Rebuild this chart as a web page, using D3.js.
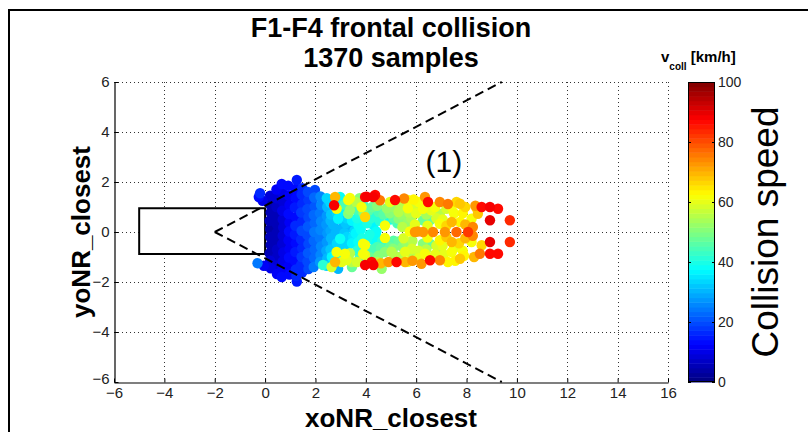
<!DOCTYPE html>
<html>
<head>
<meta charset="utf-8">
<script src="https://cdn.jsdelivr.net/npm/d3@7"></script>
<style>
  body { margin: 0; background: #fff; }
  svg { display: block; }
</style>
</head>
<body>
<svg id="chart" width="808" height="432"></svg>
<script>
const titleLines = ['F1-F4 frontal collision', '1370 samples'];
const xLabel = 'xoNR_closest';
const yLabel = 'yoNR_closest';
const cbarLabel = 'Collision speed';
const regionLabel = '(1)';
const regionPos = [7.1, 2.4];

const xTicks = [-6, -4, -2, 0, 2, 4, 6, 8, 10, 12, 14, 16];
const yTicks = [-6, -4, -2, 0, 2, 4, 6];
const cbarTicks = [0, 20, 40, 60, 80, 100];

// vehicle outline [x0, x1, y0, y1] and the cone edges from the apex
const vehicleBox = [-5, 0, -0.88, 0.95];
const coneApex = [-2, 0];
const coneEnds = [[9.4, 6], [9.4, -6]];

// [xoNR, yoNR, v_coll km/h]
const samples = [
  // beside the vehicle front
  [-0.25,1.4,14],[-0.1,1.25,10],[-0.2,1.55,16],[-0.3,-1.25,24],[-0.05,-1.35,12],
  // x ~ 0.2 .. 2.5, blue
  [0.2,1.45,9],[0.2,1.1,6],[0.22,0.78,5],[0.18,0.45,5],[0.2,0.12,4],[0.2,-0.2,5],[0.22,-0.52,5],[0.18,-0.85,6],[0.2,-1.15,8],[0.22,-1.45,10],
  [0.45,1.7,11],[0.47,1.35,8],[0.45,1.0,7],[0.43,0.65,6],[0.47,0.3,6],[0.45,-0.05,5],[0.45,-0.38,6],[0.47,-0.7,7],[0.45,-1.02,7],[0.43,-1.35,9],[0.47,-1.68,12],
  [0.66,1.92,13],[0.7,1.55,10],[0.72,1.2,9],[0.68,0.85,10],[0.7,0.5,8],[0.72,0.18,9],[0.7,-0.15,8],[0.68,-0.48,9],[0.72,-0.82,10],[0.7,-1.18,10],[0.68,-1.52,11],[0.66,-1.8,13],
  [0.92,1.85,14],[0.95,1.45,12],[0.97,1.08,11],[0.93,0.72,13],[0.97,0.38,12],[0.95,0.02,14],[0.93,-0.33,12],[0.97,-0.68,11],[0.95,-1.02,13],[0.93,-1.38,12],[0.97,-1.7,14],
  [1.26,2.08,15],[1.2,1.72,13],[1.22,1.35,14],[1.18,0.98,15],[1.22,0.6,14],[1.2,0.25,16],[1.18,-0.1,15],[1.22,-0.45,13],[1.2,-0.8,15],[1.18,-1.15,14],[1.22,-1.5,16],[1.24,-1.75,16],[1.26,-1.98,15],
  [1.48,1.75,16],[1.45,1.5,17],[1.47,1.12,16],[1.43,0.78,18],[1.47,0.42,17],[1.45,0.05,19],[1.43,-0.3,17],[1.47,-0.65,16],[1.45,-1.0,18],[1.43,-1.32,17],[1.47,-1.62,16],
  [1.7,1.6,19],[1.72,1.28,18],[1.68,0.92,20],[1.72,0.58,19],[1.7,0.22,21],[1.68,-0.12,20],[1.72,-0.48,19],[1.7,-0.84,21],[1.68,-1.18,20],[1.72,-1.48,19],
  [1.98,1.68,20],[1.95,1.38,22],[1.97,1.02,21],[1.93,0.68,23],[1.97,0.35,22],[1.95,0.0,24],[1.93,-0.35,22],[1.97,-0.7,23],[1.95,-1.05,22],[1.93,-1.4,24],
  [2.2,1.42,26],[2.22,1.08,25],[2.18,0.75,24],[2.22,0.42,26],[2.2,0.08,25],[2.18,-0.25,24],[2.22,-0.58,26],[2.2,-0.92,25],[2.18,-1.2,27],[2.3,-1.32,42],
  [2.45,1.35,33],[2.47,1.0,30],[2.45,0.65,28],[2.43,0.3,27],[2.47,-0.05,28],[2.45,-0.4,27],[2.43,-0.75,29],[2.47,-1.05,31],[2.45,-1.35,34],
  // x ~ 2.6 .. 4.6, light blue / cyan with fast outer rows
  [2.6,1.15,34],[2.6,0.45,30],[2.6,0.05,29],[2.62,-0.25,30],[2.6,-0.7,32],[2.85,1.2,36],[2.85,0.75,34],[2.8,-0.05,31],[2.85,-0.45,33],[2.8,-1.0,38],
  [3.05,0.85,36],[3.05,0.15,30],[3.1,-0.35,32],[3.1,-1.0,40],[3.25,1.05,40],[3.25,-0.2,33],[3.25,0.55,34],[3.45,0.45,36],[3.45,-0.45,36],[3.5,1.1,44],
  [3.45,-1.4,48],[3.55,0.05,34],[3.7,-0.4,38],[3.75,0.75,42],[3.75,1.35,50],[3.75,-1.05,44],
  [2.74,1.07,88],[2.78,1.4,70],[2.84,0.93,62],[2.9,0.53,36],[2.62,0.7,32],[2.7,0.3,30],[2.9,0.0,28],[2.98,-0.27,38],[2.7,-0.45,30],[2.65,-1.0,36],
  [2.84,-0.8,62],[2.78,-1.2,70],[2.64,-1.4,58],[2.9,-1.47,30],[3.0,-0.6,33],
  [2.98,1.4,38],[3.3,1.28,62],[3.37,1.36,62],[3.15,1.1,44],[2.98,0.53,28],[3.3,0.73,50],[3.37,0.88,52],[3.37,0.2,30],[3.2,0.35,32],[3.15,-0.05,32],
  [3.5,-0.2,35],[3.3,-0.5,34],[3.17,-0.87,62],[3.37,-0.85,56],[3.04,-1.2,60],[3.44,-1.2,55],[3.24,-1.12,60],
  [3.97,1.4,86],[4.29,1.4,88],[4.03,1.41,88],[4.37,1.48,86],[3.83,1.0,62],[3.9,1.08,45],[3.9,0.76,50],[3.97,0.6,66],[3.7,0.28,38],[3.65,0.55,40],
  [3.6,-0.05,36],[3.8,0.1,38],[3.85,-0.25,40],[3.89,-0.47,62],[3.97,-0.52,62],[3.89,-0.87,62],[3.97,-0.92,60],[4.23,-1.2,87],[3.97,-1.32,88],[4.3,-1.32,88],
  [3.65,-1.2,58],[3.6,1.2,56],[3.65,-0.75,42],[3.6,0.9,44],
  [4.05,0.35,40],[4.05,-0.3,40],[4.1,0.85,46],[4.1,-0.75,45],[4.15,-1.0,48],[4.35,0.65,42],[4.4,-0.15,38],[4.45,-0.6,44],[4.45,1.05,50],[4.55,0.45,42],
  [4.65,-0.35,42],[4.7,0.7,46],[4.75,-0.8,50],[4.45,-1.2,55],
  [4.3,0.28,37],[4.37,-0.4,38],[4.5,0.8,45],[4.56,1.27,75],[4.2,0.55,42],[4.15,-0.1,40],[4.42,0.02,38],[4.25,-0.7,45],[4.5,-0.95,50],[4.6,-0.65,46],
  [4.25,1.0,48],[4.63,-1.47,52],[4.6,-1.25,70],
  // x ~ 4.7 .. 6.2, green / yellow
  [4.95,0.75,50],[4.95,-0.6,48],[5.1,1.0,52],[5.15,-0.95,54],[5.1,0.55,46],[5.1,-0.35,46],[5.35,1.1,56],[5.35,-1.0,55],[5.4,0.7,52],[5.45,-0.6,50],
  [5.55,0.5,50],[5.6,-0.4,52],[5.8,0.55,54],[5.85,-0.35,55],[5.8,1.12,58],[5.95,0.3,60],
  [4.76,0.26,62],[4.76,-0.24,62],[4.96,1.2,60],[4.83,0.95,52],[4.96,0.5,40],[4.83,-0.4,40],[5.02,-0.79,56],[5.08,-0.67,50],[4.9,-1.2,72],[5.22,-1.2,86],
  [5.16,1.28,86],[5.52,1.34,74],[5.67,1.28,62],[5.3,0.8,56],[5.3,0.53,50],[5.25,0.35,45],[5.67,0.95,62],[5.72,0.78,56],[5.67,0.4,52],[5.75,0.02,62],
  [5.95,0.0,72],[6.06,0.02,72],[5.3,-0.38,48],[5.67,-0.52,50],[5.83,-0.67,58],[5.56,-0.79,60],[5.56,-1.2,70],[5.67,-1.19,62],[5.85,-1.15,72],
  [6.0,0.75,60],[5.45,0.2,55],[5.5,-0.25,58],[5.9,1.3,64],[6.0,1.05,58],[5.85,-0.95,56],[6.1,-0.75,58],
  // x ~ 6.2 .. 8.2, yellow / orange
  [6.1,1.2,62],[6.1,-1.05,60],[6.4,0.7,54],[6.4,-0.7,55],[6.45,0.25,60],[6.45,-0.22,62],[6.75,1.0,62],[6.75,-0.9,60],[6.8,0.55,58],[6.8,-0.55,58],
  [7.05,0.5,60],[7.05,-0.55,60],[7.2,0.25,66],[7.2,-0.2,68],[7.5,0.75,62],[7.5,-0.65,60],[7.6,1.2,66],[7.55,-1.15,64],[7.95,1.0,66],[7.9,-0.95,64],
  [7.95,0.3,70],[7.95,-0.25,70],[8.25,0.2,74],[8.25,-0.15,74],[8.3,-1.0,70],[8.35,1.05,72],
  [6.35,1.4,72],[6.47,1.2,86],[6.94,1.2,74],[6.27,0.93,62],[6.6,0.87,60],[6.27,0.47,48],[6.55,0.47,48],[6.94,0.73,56],[7.2,0.93,58],[7.41,1.0,62],
  [7.74,1.13,68],[7.26,1.12,76],[6.27,0.0,72],[6.67,0.0,74],[7.14,0.0,73],[7.6,0.0,78],[8.06,0.0,82],[6.94,0.33,62],[7.41,0.4,70],[7.74,0.4,64],
  [8.2,0.53,62],[8.45,0.73,68],[7.85,0.75,64],
  [8.2,-0.4,62],[8.6,-0.53,66],[8.53,-0.87,76],[7.74,-1.07,68],[7.41,-0.8,62],[6.94,-0.67,56],[6.55,-0.47,48],[6.27,-0.47,50],[7.41,-0.4,70],
  [6.94,-0.33,64],[6.35,-0.87,62],[6.55,-1.13,86],[6.94,-1.13,74],[7.26,-1.2,64],[6.21,-1.27,72],[7.7,-0.45,66],[7.1,-0.9,60],[7.85,-0.75,62],
  // x ~ 8.4 .. 9.8, red
  [8.4,0.95,66],[8.6,1.0,86],[8.93,1.0,88],[9.25,0.93,86],[8.93,0.47,90],[9.72,0.47,84],
  [9.72,-0.4,84],[8.93,-0.4,90],[8.93,-0.87,87],[9.25,-0.87,86]
];

const W = 808, H = 432;
const plot = { left: 114, right: 668, top: 82, bottom: 382 };
const cbar = { left: 688, right: 715 };

const svg = d3.select('#chart');
const fontMain = '"Liberation Sans", Arial, Helvetica, sans-serif';
const fontTick = '"Liberation Sans Narrow", "Arial Narrow", "Liberation Sans", Arial, sans-serif';

const x = d3.scaleLinear().domain([-6, 16]).range([plot.left, plot.right]);
const y = d3.scaleLinear().domain([-6, 6]).range([plot.bottom, plot.top]);

// MATLAB style jet colormap
const clamp = v => Math.max(0, Math.min(1, v));
const jet = t => d3.rgb(
  255 * clamp(Math.min(4 * t - 1.5, -4 * t + 4.5)),
  255 * clamp(Math.min(4 * t - 0.5, -4 * t + 3.5)),
  255 * clamp(Math.min(4 * t + 0.5, -4 * t + 2.5))
).formatHex();
const nLevels = 64;
const color = d3.scaleSequential(t => jet((Math.min(nLevels - 1, Math.floor(t * nLevels)) + 0.5) / nLevels))
  .domain([0, 100]);

// figure frame
svg.append('path')
  .attr('d', `M9,${H} V10 H${W}`)
  .attr('fill', 'none').attr('stroke', '#000').attr('stroke-width', 2);

// grid
const grid = svg.append('g').attr('stroke', '#333').attr('stroke-width', 1)
  .attr('stroke-dasharray', '1,3');
grid.selectAll('line.gx').data(xTicks.filter(d => d > -6)).enter().append('line')
  .attr('x1', d => Math.round(x(d)) + 0.5).attr('x2', d => Math.round(x(d)) + 0.5)
  .attr('y1', plot.top).attr('y2', plot.bottom);
grid.selectAll('line.gy').data(yTicks.filter(d => d > -6)).enter().append('line')
  .attr('y1', d => Math.round(y(d)) + 0.5).attr('y2', d => Math.round(y(d)) + 0.5)
  .attr('x1', plot.left).attr('x2', plot.right);

// axes
const xAxis = svg.append('g')
  .attr('transform', `translate(0,${plot.bottom + 0.5})`)
  .call(d3.axisBottom(x).tickValues(xTicks).tickFormat(d3.format('d'))
    .tickSizeInner(-4).tickSizeOuter(0).tickPadding(5));
const yAxis = svg.append('g')
  .attr('transform', `translate(${plot.left + 0.5},0)`)
  .call(d3.axisLeft(y).tickValues(yTicks).tickFormat(d3.format('d'))
    .tickSizeInner(-4).tickSizeOuter(0).tickPadding(5));
[xAxis, yAxis].forEach(g => {
  g.select('.domain').attr('stroke', '#000').attr('stroke-width', 1.2);
  g.selectAll('.tick line').attr('stroke', '#000');
  g.selectAll('.tick text').attr('fill', '#222')
    .style('font-family', fontTick).style('font-size', '15px');
});
// the two "-6" labels share the corner; nudge the y one up a little
yAxis.selectAll('.tick text').filter(d => d === -6).attr('dy', '0.1em');

// vehicle outline
svg.append('rect')
  .attr('x', x(vehicleBox[0])).attr('y', y(vehicleBox[3]))
  .attr('width', x(vehicleBox[1]) - x(vehicleBox[0]))
  .attr('height', y(vehicleBox[2]) - y(vehicleBox[3]))
  .attr('fill', '#fff').attr('stroke', '#000').attr('stroke-width', 2);

// samples, slow first so that fast ones sit on top
svg.append('g').selectAll('circle')
  .data(samples.slice().sort((a, b) => a[2] - b[2]))
  .enter().append('circle')
  .attr('cx', d => x(d[0]))
  .attr('cy', d => y(d[1]))
  .attr('r', 5.2)
  .attr('fill', d => color(d[2]));

// cone edges
svg.append('g').selectAll('line').data(coneEnds).enter().append('line')
  .attr('x1', x(coneApex[0])).attr('y1', y(coneApex[1]))
  .attr('x2', d => x(d[0])).attr('y2', d => y(d[1]))
  .attr('stroke', '#000').attr('stroke-width', 2).attr('stroke-dasharray', '9,5');

// region label
svg.append('text')
  .attr('x', x(regionPos[0])).attr('y', y(regionPos[1]))
  .attr('text-anchor', 'middle')
  .style('font-family', fontMain).style('font-size', '30px')
  .text(regionLabel);

// titles
svg.append('g').selectAll('text').data(titleLines).enter().append('text')
  .attr('x', (plot.left + plot.right) / 2)
  .attr('y', (d, i) => 37 + i * 30)
  .attr('text-anchor', 'middle')
  .style('font-family', fontMain).style('font-size', '27px').style('font-weight', 'bold')
  .text(d => d);

svg.append('text')
  .attr('x', (plot.left + plot.right) / 2).attr('y', 427)
  .attr('text-anchor', 'middle')
  .style('font-family', fontMain).style('font-size', '26px').style('font-weight', 'bold')
  .text(xLabel);

svg.append('text')
  .attr('transform', `translate(90,${(plot.top + plot.bottom) / 2}) rotate(-90)`)
  .attr('text-anchor', 'middle')
  .style('font-family', fontMain).style('font-size', '26px').style('font-weight', 'bold')
  .text(yLabel);

// colorbar
const cy = d3.scaleLinear().domain([0, 100]).range([plot.bottom, plot.top]);
const levels = d3.range(nLevels);
svg.append('g').selectAll('rect').data(levels).enter().append('rect')
  .attr('x', cbar.left)
  .attr('width', cbar.right - cbar.left)
  .attr('y', i => cy((i + 1) * 100 / nLevels))
  .attr('height', i => cy(i * 100 / nLevels) - cy((i + 1) * 100 / nLevels) + 0.5)
  .attr('fill', i => jet((i + 0.5) / nLevels));
svg.append('rect')
  .attr('x', cbar.left + 0.5).attr('y', plot.top + 0.5)
  .attr('width', cbar.right - cbar.left - 1).attr('height', plot.bottom - plot.top - 1)
  .attr('fill', 'none').attr('stroke', '#000').attr('stroke-width', 1);

const cAxisR = svg.append('g')
  .attr('transform', `translate(${cbar.right},0)`)
  .call(d3.axisRight(cy).tickValues(cbarTicks).tickSizeInner(-3).tickSizeOuter(0).tickPadding(3));
const cAxisL = svg.append('g')
  .attr('transform', `translate(${cbar.left},0)`)
  .call(d3.axisLeft(cy).tickValues(cbarTicks).tickFormat('').tickSizeInner(-3).tickSizeOuter(0));
[cAxisR, cAxisL].forEach(g => {
  g.select('.domain').remove();
  g.selectAll('.tick line').attr('stroke', '#000');
});
cAxisR.selectAll('.tick text').attr('fill', '#222')
  .style('font-family', fontTick).style('font-size', '14px');

const cTitle = svg.append('text')
  .attr('x', 661).attr('y', 62)
  .style('font-family', fontMain).style('font-weight', 'bold').style('font-size', '15px');
cTitle.append('tspan').text('v');
cTitle.append('tspan').attr('dy', 8).style('font-size', '10px').text('coll');
cTitle.append('tspan').attr('dy', -8).text(' [km/h]');

svg.append('text')
  .attr('transform', `translate(778,${(plot.top + plot.bottom) / 2}) rotate(-90)`)
  .attr('text-anchor', 'middle')
  .style('font-family', fontMain).style('font-size', '37px')
  .text(cbarLabel);
</script>
</body>
</html>
